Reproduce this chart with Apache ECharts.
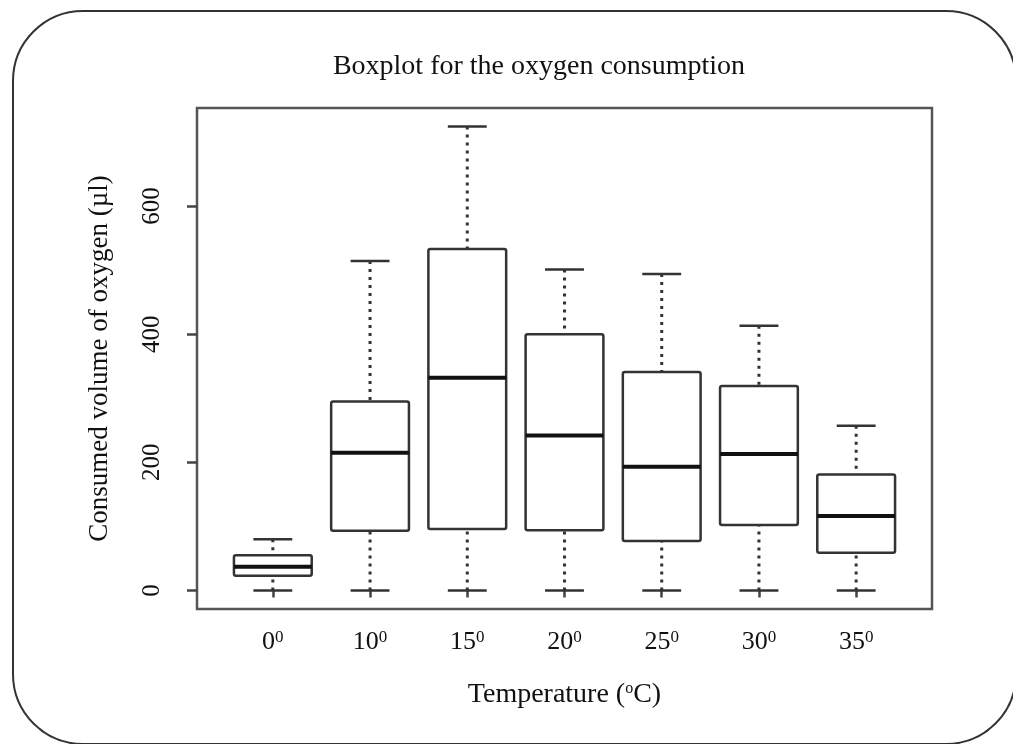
<!DOCTYPE html>
<html>
<head>
<meta charset="utf-8">
<script src="https://cdn.jsdelivr.net/npm/echarts@6/dist/echarts.min.js"></script>
<style>
  html, body { margin: 0; padding: 0; background: #fff; }
  #main { width: 1013px; height: 744px; }
</style>
</head>
<body>
<div id="main"></div>
<script>
// temperatures (categories) and box statistics
const temps = ['0', '10', '15', '20', '25', '30', '35'];
const lowWhisker = [0, 0, 0, 0, 0, 0, 0];
const q1 = [23, 93, 96, 94, 77, 102, 59];
const median = [37, 215, 332, 242, 193, 213, 116];
const q3 = [55, 295, 533, 400, 341, 319, 181];
const highWhisker = [80, 514, 724, 501, 494, 413, 257];
const yTicks = [0, 200, 400, 600];

const serif = 'Liberation Serif';

var myChart = echarts.init(document.getElementById('main'));

// rows for the custom series: [position, min, q1, median, q3, max]
const rows = temps.map((t, i) => [i + 1, lowWhisker[i], q1[i], median[i], q3[i], highWhisker[i]]);

// R style range padding (4% each side)
const yMaxData = Math.max(...highWhisker);
const yPad = yMaxData * 0.04;
const xPad = temps.length * 0.04;
const xPos = temps.map((t, i) => i + 1);

var option = {
  animation: false,
  title: {
    text: 'Boxplot for the oxygen consumption',
    left: 534,
    top: 48,
    textAlign: 'center',
    textStyle: { fontFamily: serif, fontSize: 28, fontWeight: 'normal', color: '#111' },
  },
  graphic: [
    {
      // rounded outer border of the figure
      type: 'rect',
      z: -10,
      shape: { x: 13, y: 11, width: 1003, height: 733, r: 70 },
      style: { fill: 'none', stroke: '#333', lineWidth: 2 },
    },
  ],
  grid: {
    left: 197,
    right: 81,
    top: 108,
    bottom: 135,
    show: true,
    borderColor: '#555',
    borderWidth: 2.5,
    backgroundColor: 'transparent',
  },
  xAxis: {
    type: 'value',
    min: 1 - 0.5 - xPad,
    max: temps.length + 0.5 + xPad,
    name: 'Temperature ({s|o}C)',
    nameLocation: 'middle',
    nameGap: 72,
    nameTextStyle: {
      fontFamily: serif,
      fontSize: 28,
      color: '#111',
      rich: {
        s: { fontFamily: serif, fontSize: 16, verticalAlign: 'top', color: '#111', padding: [0, 0, 10, 0] },
      },
    },
    axisLine: { show: false },
    splitLine: { show: false },
    axisTick: { show: true, length: 7, customValues: xPos, lineStyle: { color: '#444', width: 2.5 } },
    axisLabel: {
      customValues: xPos,
      margin: 20,
      formatter: function (v) {
        return '{n|' + temps[Math.round(v) - 1] + '}{s|0}';
      },
      rich: {
        n: { fontFamily: serif, fontSize: 26, color: '#111' },
        s: { fontFamily: serif, fontSize: 17, color: '#111', verticalAlign: 'top', padding: [0, 0, 8, 0] },
      },
    },
  },
  yAxis: {
    type: 'value',
    min: -yPad,
    max: yMaxData + yPad,
    name: 'Consumed volume of oxygen (µl)',
    nameLocation: 'middle',
    nameRotate: 90,
    nameGap: 84,
    nameTextStyle: { fontFamily: serif, fontSize: 27, color: '#111' },
    axisLine: { show: false },
    splitLine: { show: false },
    axisTick: { show: true, length: 10, customValues: yTicks, lineStyle: { color: '#444', width: 2.5 } },
    axisLabel: {
      customValues: yTicks,
      rotate: 90,
      margin: 32,
      fontFamily: serif,
      fontSize: 25,
      color: '#111',
    },
  },
  series: [
    {
      type: 'custom',
      data: rows,
      encode: { x: 0, y: [1, 2, 3, 4, 5] },
      renderItem: function (params, api) {
        const x = api.value(0);
        const lo = api.coord([x, api.value(1)]);
        const b1 = api.coord([x, api.value(2)]);
        const md = api.coord([x, api.value(3)]);
        const b3 = api.coord([x, api.value(4)]);
        const hi = api.coord([x, api.value(5)]);
        const bw = api.size([1, 0])[0] * 0.8;
        const cx = lo[0];
        const dotted = { stroke: '#333', lineWidth: 3, lineDash: [3, 5] };
        const solid = { stroke: '#333', lineWidth: 2.5 };
        return {
          type: 'group',
          children: [
            { type: 'line', shape: { x1: cx, y1: hi[1], x2: cx, y2: b3[1] }, style: dotted },
            { type: 'line', shape: { x1: cx, y1: lo[1], x2: cx, y2: b1[1] }, style: dotted },
            { type: 'line', shape: { x1: cx - bw / 4, y1: hi[1], x2: cx + bw / 4, y2: hi[1] }, style: solid },
            { type: 'line', shape: { x1: cx - bw / 4, y1: lo[1], x2: cx + bw / 4, y2: lo[1] }, style: solid },
            {
              type: 'rect',
              shape: { x: cx - bw / 2, y: b3[1], width: bw, height: b1[1] - b3[1], r: 2 },
              style: { fill: '#fff', stroke: '#333', lineWidth: 2.5 },
            },
            { type: 'line', shape: { x1: cx - bw / 2, y1: md[1], x2: cx + bw / 2, y2: md[1] }, style: { stroke: '#111', lineWidth: 4 } },
          ],
        };
      },
    },
  ],
};
myChart.setOption(option);
window.addEventListener('resize', function () {
  myChart.resize();
});
</script>
</body>
</html>
